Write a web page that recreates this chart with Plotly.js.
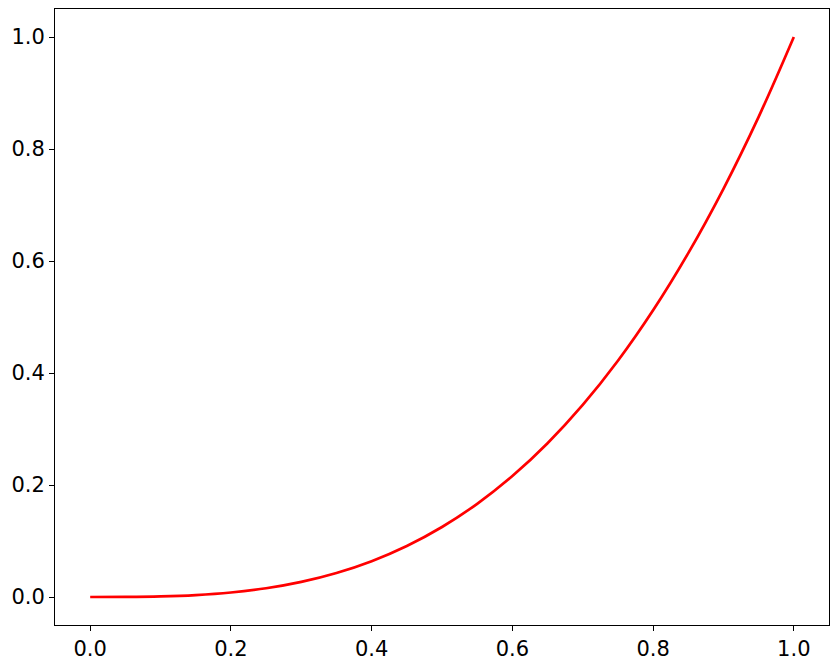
<!DOCTYPE html>
<html>
<head>
<meta charset="utf-8">
<script src="https://cdn.plot.ly/plotly-3.0.1.min.js"></script>
<style>
  html, body { margin: 0; padding: 0; background: #fff; }
  #plot { width: 839px; height: 667px; }
</style>
</head>
<body>
<div id="plot"></div>
<script>
// values
const xVals = [0.0, 0.05, 0.1, 0.15, 0.2, 0.25, 0.3, 0.35, 0.4, 0.45, 0.5, 0.55, 0.6, 0.65, 0.7, 0.75, 0.8, 0.85, 0.9, 0.95, 1.0];
const yVals = [0.0, 0.0001, 0.001, 0.0034, 0.008, 0.0156, 0.027, 0.0429, 0.064, 0.0911, 0.125, 0.1664, 0.216, 0.2746, 0.343, 0.4219, 0.512, 0.6141, 0.729, 0.8574, 1.0];
const tickVals = [0.0, 0.2, 0.4, 0.6, 0.8, 1.0];
const tickText = ['0.0', '0.2', '0.4', '0.6', '0.8', '1.0'];

const axisStyle = {
    showgrid: false,
    zeroline: false,
    showline: true,
    mirror: true,
    linecolor: '#000',
    linewidth: 1,
    ticks: 'outside',
    ticklen: 5,
    tickwidth: 1,
    tickcolor: '#000',
    tickvals: tickVals,
    ticktext: tickText,
    tickfont: { family: 'DejaVu Sans', size: 21, color: '#000' }
};

const layout = {
    width: 839,
    height: 667,
    paper_bgcolor: '#fff',
    plot_bgcolor: '#fff',
    margin: { l: 55, r: 10, t: 9, b: 42 },
    showlegend: false,
    xaxis: { ...axisStyle, range: [-0.05, 1.05] },
    yaxis: { ...axisStyle, range: [-0.05, 1.05] }
};

Plotly.newPlot('plot', [{
    x: xVals, y: yVals, type: 'scatter', mode: 'lines',
    line: { color: '#ff0000', width: 2.7, shape: 'spline' }
}], layout, { displayModeBar: false, staticPlot: true });
</script>
</body>
</html>
